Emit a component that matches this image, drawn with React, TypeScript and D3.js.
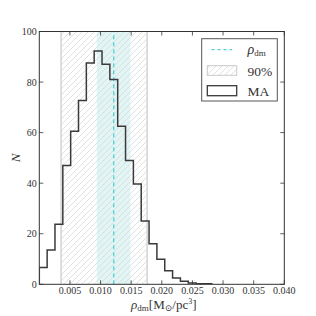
import React, { useEffect, useRef } from 'react';
import * as d3 from 'd3';

// histogram (MA), bins start at 0 with fixed width
const binStart = 0;
const binWidth = 0.00128;
const counts = [6.6, 13.6, 23.8, 47, 60.5, 72.7, 87.5, 92.3, 87, 81, 62.5, 49, 39.7, 25, 16, 9.9, 5.4, 2.5, 1.2, 0.5, 0.2, 0.2];

// 90% interval and the central band / estimate
const interval90 = [0.00355, 0.0176];
const coreBand = [0.00938, 0.01487];
const rhoDm = 0.01216;

const xTicks = [0.005, 0.01, 0.015, 0.02, 0.025, 0.03, 0.035, 0.04];
const yTicks = [0, 20, 40, 60, 80, 100];

const FONT = '"Liberation Serif", "DejaVu Serif", serif';

export default function App() {
  const ref = useRef<SVGSVGElement>(null);

  useEffect(() => {
    const svg = d3.select(ref.current);
    svg.selectAll('*').remove();

    const margin = { top: 31.5, right: 31.7, bottom: 31.7, left: 39.3 };
    const W = 316, H = 316;
    const x = d3.scaleLinear().domain([0, 0.04]).range([margin.left, W - margin.right]);
    const y = d3.scaleLinear().domain([0, 100]).range([H - margin.bottom, margin.top]);

    const defs = svg.append('defs');
    const pat = defs.append('pattern')
      .attr('id', 'hatch')
      .attr('patternUnits', 'userSpaceOnUse')
      .attr('width', 6).attr('height', 6);
    pat.append('path')
      .attr('d', 'M-1,1 l2,-2 M0,6 l6,-6 M5,7 l2,-2')
      .attr('stroke', '#d9d9d9').attr('stroke-width', 0.8);
    defs.append('clipPath').attr('id', 'plotclip')
      .append('rect')
      .attr('x', x(0)).attr('y', y(100))
      .attr('width', x(0.04) - x(0)).attr('height', y(0) - y(100));

    const plot = svg.append('g').attr('clip-path', 'url(#plotclip)');

    // cyan band
    plot.append('rect')
      .attr('x', x(coreBand[0])).attr('y', y(100))
      .attr('width', x(coreBand[1]) - x(coreBand[0]))
      .attr('height', y(0) - y(100))
      .attr('fill', '#e0f5f4');

    // 90% hatched band
    plot.append('rect')
      .attr('x', x(interval90[0])).attr('y', y(100))
      .attr('width', x(interval90[1]) - x(interval90[0]))
      .attr('height', y(0) - y(100))
      .attr('fill', 'url(#hatch)');
    interval90.forEach(v => {
      plot.append('line')
        .attr('x1', x(v)).attr('x2', x(v))
        .attr('y1', y(0)).attr('y2', y(100))
        .attr('stroke', '#c8c8c8').attr('stroke-width', 1.2);
    });

    // dashed estimate
    plot.append('line')
      .attr('x1', x(rhoDm)).attr('x2', x(rhoDm))
      .attr('y1', y(0)).attr('y2', y(100))
      .attr('stroke', '#2cc6c6').attr('stroke-width', 1)
      .attr('stroke-dasharray', '4,3');

    // histogram step outline
    const pts: [number, number][] = [[binStart, 0]];
    counts.forEach((c, i) => {
      pts.push([binStart + i * binWidth, c]);
      pts.push([binStart + (i + 1) * binWidth, c]);
    });
    pts.push([binStart + counts.length * binWidth, 0]);
    plot.append('path')
      .attr('d', d3.line<[number, number]>().x(d => x(d[0])).y(d => y(d[1]))(pts))
      .attr('fill', 'none')
      .attr('stroke', '#3a3a3a').attr('stroke-width', 1.5);

    // axes (ticks inward, on all sides)
    const tickLen = 4;
    const axG = svg.append('g').attr('stroke', '#333').attr('stroke-width', 0.8);
    xTicks.forEach(t => {
      axG.append('line').attr('x1', x(t)).attr('x2', x(t)).attr('y1', y(0)).attr('y2', y(0) - tickLen);
      axG.append('line').attr('x1', x(t)).attr('x2', x(t)).attr('y1', y(100)).attr('y2', y(100) + tickLen);
    });
    yTicks.forEach(t => {
      axG.append('line').attr('x1', x(0)).attr('x2', x(0) + tickLen).attr('y1', y(t)).attr('y2', y(t));
      axG.append('line').attr('x1', x(0.04)).attr('x2', x(0.04) - tickLen).attr('y1', y(t)).attr('y2', y(t));
    });
    svg.append('rect')
      .attr('x', x(0)).attr('y', y(100))
      .attr('width', x(0.04) - x(0)).attr('height', y(0) - y(100))
      .attr('fill', 'none').attr('stroke', '#333').attr('stroke-width', 1);

    svg.append('g').selectAll('text').data(xTicks).enter().append('text')
      .attr('x', d => x(d)).attr('y', y(0) + 10)
      .attr('text-anchor', 'middle')
      .attr('font-family', FONT).attr('font-size', 10).attr('fill', '#333')
      .text(d => d3.format('.3f')(d));
    svg.append('g').selectAll('text').data(yTicks).enter().append('text')
      .attr('x', x(0) - 2.5).attr('y', d => y(d) + 3.5)
      .attr('text-anchor', 'end')
      .attr('font-family', FONT).attr('font-size', 10).attr('fill', '#333')
      .text(d => String(d));

    // axis labels
    svg.append('text')
      .attr('transform', `translate(19.5,${(y(0) + y(100)) / 2}) rotate(-90)`)
      .attr('text-anchor', 'middle')
      .attr('font-family', FONT).attr('font-size', 13).attr('font-style', 'italic').attr('fill', '#333')
      .text('N');

    const xl = svg.append('text')
      .attr('x', (x(0) + x(0.04)) / 2 + 2).attr('y', 308.5)
      .attr('text-anchor', 'middle')
      .attr('font-family', FONT).attr('font-size', 13).attr('fill', '#333');
    xl.append('tspan').attr('font-style', 'italic').text('ρ');
    xl.append('tspan').attr('font-size', 9).attr('dy', 2).text('dm');
    xl.append('tspan').attr('dy', -2).text('[M');
    xl.append('tspan').attr('font-size', 9).attr('dy', 2).text('⊙');
    xl.append('tspan').attr('dy', -2).text('/pc');
    xl.append('tspan').attr('font-size', 8).attr('dy', -5).text('3');
    xl.append('tspan').attr('dy', 5).text(']');

    // legend
    const lg = svg.append('g');
    lg.append('rect')
      .attr('x', 201.7).attr('y', 38.7).attr('width', 75.6).attr('height', 62.3)
      .attr('fill', 'white').attr('stroke', '#555').attr('stroke-width', 1);
    lg.append('line')
      .attr('x1', 211.5).attr('x2', 232).attr('y1', 49.7).attr('y2', 49.7)
      .attr('stroke', '#2cc6c6').attr('stroke-width', 1).attr('stroke-dasharray', '3,3');
    lg.append('rect')
      .attr('x', 207.3).attr('y', 65.7).attr('width', 29.4).attr('height', 9.6)
      .attr('fill', 'url(#hatch)').attr('stroke', '#c8c8c8').attr('stroke-width', 1);
    lg.append('rect')
      .attr('x', 207.3).attr('y', 85.7).attr('width', 29.4).attr('height', 10)
      .attr('fill', 'none').attr('stroke', '#3a3a3a').attr('stroke-width', 1.3);
    const t1 = lg.append('text')
      .attr('x', 247.5).attr('y', 54)
      .attr('font-family', FONT).attr('font-size', 14).attr('fill', '#333');
    t1.append('tspan').attr('font-style', 'italic').text('ρ');
    t1.append('tspan').attr('font-size', 9).attr('dy', 2).text('dm');
    lg.append('text')
      .attr('x', 247.5).attr('y', 75.5)
      .attr('font-family', FONT).attr('font-size', 13.5).attr('fill', '#333')
      .text('90%');
    lg.append('text')
      .attr('x', 247.5).attr('y', 95.5)
      .attr('font-family', FONT).attr('font-size', 13.5).attr('fill', '#333')
      .text('MA');
  }, []);

  return (
    <svg ref={ref} width={316} height={316}
      style={{ position: 'absolute', left: 0, top: 0, background: 'white' }} />
  );
}
